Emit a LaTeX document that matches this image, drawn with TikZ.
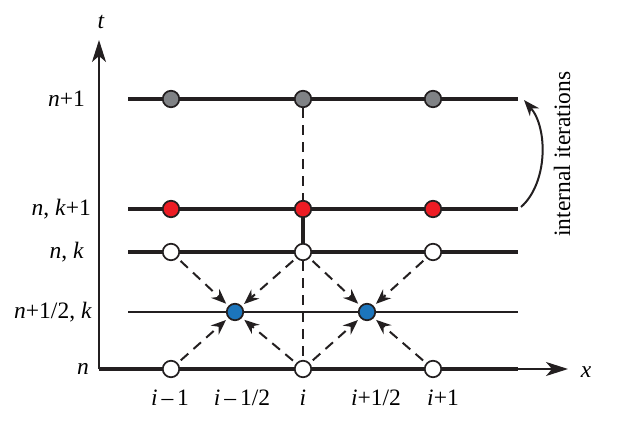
\documentclass[tikz,border=0pt]{standalone}
\usepackage{fontspec}
\setmainfont{Liberation Serif}
\usetikzlibrary{arrows.meta}
\definecolor{ln}{RGB}{35,31,32}
\definecolor{ngray}{RGB}{128,130,133}
\definecolor{nred}{RGB}{237,28,36}
\definecolor{nblue}{RGB}{28,117,188}
\begin{document}
\begin{tikzpicture}[x=1pt,y=-1pt,
  pt/.style={circle,draw=ln,line width=1.7pt,minimum size=16.5pt,inner sep=0pt},
  gpt/.style={pt,fill=ngray},
  rpt/.style={pt,fill=nred},
  wpt/.style={pt,fill=white},
  bpt/.style={pt,fill=nblue},
  row/.style={draw=ln,line width=3.2pt},
  thinrow/.style={draw=ln,line width=1.5pt},
  axis/.style={draw=ln,line width=1.6pt},
  vdsh/.style={draw=ln,line width=2.6pt,dash pattern=on 10pt off 7pt},
  dsh/.style={draw=ln,line width=2pt,dash pattern=on 10pt off 7pt},
  darr/.style={dsh,shorten <=4pt,shorten >=3pt,-{Stealth[length=15pt,width=12pt,inset=5pt]}},
  lbl/.style={font=\fontsize{23.5}{27}\selectfont,inner sep=0pt},
]
\useasboundingbox (0,0) rectangle (623,430);
% coordinates
\coordinate (o) at (99,369);
\coordinate (ttip) at (99,40);
\coordinate (xtip) at (568,369);
% axes
\draw[axis,-{Stealth[length=22pt,width=14pt,inset=6pt]}] (o) -- (ttip);
\draw[axis,-{Stealth[length=22pt,width=14pt,inset=6pt]}] (o) -- (xtip);
% rows
\coordinate (r1a) at (128,99);  \coordinate (r1b) at (518,99);
\coordinate (r2a) at (128,209); \coordinate (r2b) at (518,209);
\coordinate (r3a) at (128,252); \coordinate (r3b) at (518,252);
\coordinate (r4a) at (128,312); \coordinate (r4b) at (518,312);
\coordinate (r5b) at (518,369);
\draw[row] (r1a) -- (r1b);
\draw[row] (r2a) -- (r2b);
\draw[row] (r3a) -- (r3b);
\draw[thinrow] (r4a) -- (r4b);
\draw[row] (o) -- (r5b);
% nodes
\node[gpt] (g1) at (171,99) {};
\node[gpt] (g2) at (303,99) {};
\node[gpt] (g3) at (433,99) {};
\node[rpt] (r1) at (171,209) {};
\node[rpt] (r2) at (303,209) {};
\node[rpt] (r3) at (433,209) {};
\node[wpt] (k1) at (171,252) {};
\node[wpt] (k2) at (303,252) {};
\node[wpt] (k3) at (433,252) {};
\node[bpt] (b1) at (235,312) {};
\node[bpt] (b2) at (367,312) {};
\node[wpt] (n1) at (171,369) {};
\node[wpt] (n2) at (303,369) {};
\node[wpt] (n3) at (433,369) {};
% vertical at i
\draw[vdsh] (g2) -- (r2);
\draw[row] (r2) -- (k2);
\draw[vdsh] (k2) -- (n2);
% diagonal arrows
\draw[darr] (k1) -- (b1);
\draw[darr] (k2) -- (b1);
\draw[darr] (n1) -- (b1);
\draw[darr] (n2) -- (b1);
\draw[darr] (k2) -- (b2);
\draw[darr] (k3) -- (b2);
\draw[darr] (n2) -- (b2);
\draw[darr] (n3) -- (b2);
% curved arrow
\coordinate (ca) at (521,207);
\coordinate (cb) at (524,100);
\draw[draw=ln,line width=2pt,-{Stealth[length=16pt,width=12pt,inset=5pt]}]
  (ca) .. controls (548,183) and (548,128) .. (cb);
\node[lbl,rotate=90] (it) at (562,154) {internal iterations};
% axis labels
\node[lbl] (tl) at (101,22) {\textit{t}};
\node[lbl] (xl) at (586,372) {\textit{x}};
% row labels
\node[lbl,anchor=east] (l1) at (85,99) {\textit{n}+1};
\node[lbl,anchor=east] (l2) at (91,209) {\textit{n}, \textit{k}+1};
\node[lbl,anchor=east] (l3) at (84,252) {\textit{n}, \textit{k}};
\node[lbl,anchor=east] (l4) at (92,312) {\textit{n}+1/2, \textit{k}};
\node[lbl,anchor=east] (l5) at (89,369) {\textit{n}};
% column labels
\node[lbl] (c1) at (170,398) {\textit{i}\,–\,1};
\node[lbl] (c2) at (242,398) {\textit{i}\,–\,1/2};
\node[lbl] (c3) at (303,398) {\textit{i}};
\node[lbl] (c4) at (376,398) {\textit{i}+1/2};
\node[lbl] (c5) at (443,398) {\textit{i}+1};
\end{tikzpicture}
\end{document}
